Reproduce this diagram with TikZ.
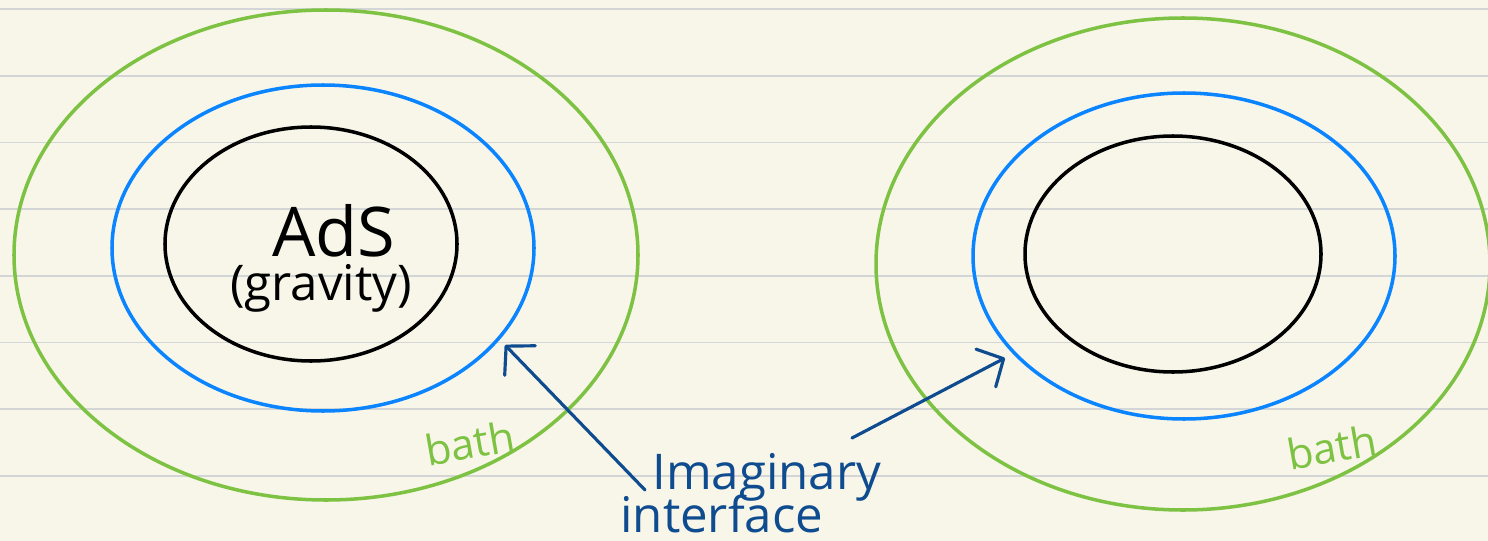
\documentclass[tikz,border=0pt]{standalone}
\usepackage{fontspec}
\setmainfont{Open Sans}
\usetikzlibrary{arrows.meta}
\definecolor{paper}{HTML}{F8F6E9}
\definecolor{ruleGray}{HTML}{D3D5D6}
\definecolor{bathGreen}{HTML}{7DC242}
\definecolor{edgeBlue}{HTML}{0A84FF}
\definecolor{inkBlue}{HTML}{0F4C8F}

\begin{document}
\begin{tikzpicture}[x=0.02cm, y=-0.02cm,
    ring/.style={line width=2pt},
    pointer/.style={inkBlue, line width=1.8pt, line cap=round,
        -{Straight Barb[length=0.4cm, width=0.85cm, round]}},
    hand/.style={inner sep=0pt, font=\fontsize{#1}{#1}\selectfont}]
    % --- PARAMETRY ---
    \pgfmathsetmacro{\ruleGap}{66.7}     % odstep linii w zeszycie
    \pgfmathsetmacro{\leftX}{326}        % srodek lewego ukladu
    \pgfmathsetmacro{\rightX}{1183}      % srodek prawego ukladu

    % Kartka
    \useasboundingbox (0,0) rectangle (1488,541);
    \clip (0,0) rectangle (1488,541);
    \fill[paper] (0,0) rectangle (1488,541);
    \foreach \k in {0,...,7}
        \draw[ruleGray, line width=1pt] (0,{9+\ruleGap*\k}) -- (1488,{9+\ruleGap*\k});

    % Lewy uklad
    \draw[ring, bathGreen] (\leftX,255) ellipse [x radius=312, y radius=245];
    \draw[ring, edgeBlue] (323,248) ellipse [x radius=211, y radius=163];
    \draw[ring, black] (311,244) ellipse [x radius=146, y radius=117];
    \node[hand=39, anchor=base west] (ads) at (272,256) {AdS};
    \node[hand=28, anchor=base west] (grav) at (230,300) {(gravity)};
    \node[hand=24, bathGreen, rotate=10] (bathL) at (470,443) {bath};

    % Prawy uklad
    \draw[ring, bathGreen] (\rightX,264) ellipse [x radius=307, y radius=246];
    \draw[ring, edgeBlue] (1184,256) ellipse [x radius=211, y radius=163];
    \draw[ring, black] (1173,254) ellipse [x radius=148, y radius=118];
    \node[hand=24, bathGreen, rotate=10] (bathR) at (1332,447) {bath};

    % Podpis i strzalki
    \node[hand=28, inkBlue, anchor=base west] (imag) at (652,489) {Imaginary};
    \node[hand=28, inkBlue, anchor=base west] (intf) at (620,532) {interface};
    \coordinate (tailL) at (645,490);
    \coordinate (tipL) at (505,345);
    \coordinate (tailR) at (852,438);
    \coordinate (tipR) at (1005,358);
    \draw[pointer] (tailL) -- (tipL);
    \draw[pointer] (tailR) -- (tipR);
\end{tikzpicture}
\end{document}
